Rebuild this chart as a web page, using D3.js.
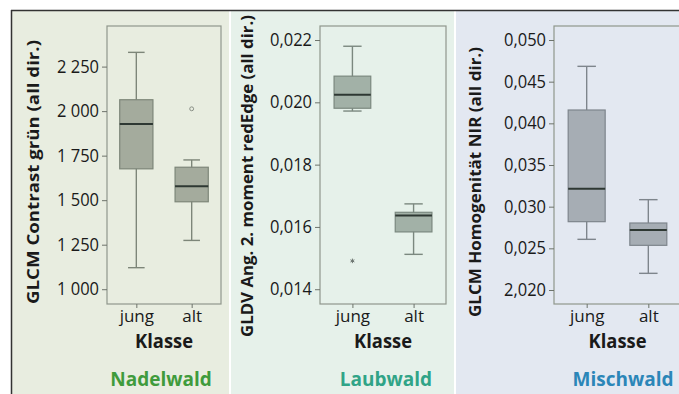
<!DOCTYPE html>
<html>
<head>
<meta charset="utf-8">
<script src="https://cdn.jsdelivr.net/npm/d3@7"></script>
<style>
  body { margin: 0; background: #fff; }
  svg text { font-family: "Open Sans", sans-serif; fill: #1a1a1a; }
</style>
</head>
<body>
<div id="chart"></div>
<script>
// Boxplot values: [whiskerLow, q1, median, q3, whiskerHigh]
const groups = ["jung", "alt"];

const nadelStats = [[1121, 1676, 1928, 2064, 2330], [1274, 1491, 1578, 1685, 1726]];
const nadelOutliers = [[], [2013]];
const nadelTicks = [1000, 1250, 1500, 1750, 2000, 2250];
const nadelTickLabels = ["1 000", "1 250", "1 500", "1 750", "2 000", "2 250"];

const laubStats = [[0.01972, 0.01981, 0.02024, 0.02084, 0.0218], [0.01512, 0.01584, 0.01637, 0.01647, 0.01674]];
const laubOutliers = [[0.01491], []];
const laubTicks = [0.014, 0.016, 0.018, 0.020, 0.022];
const laubTickLabels = ["0,014", "0,016", "0,018", "0,020", "0,022"];

const mischStats = [[0.02608, 0.0282, 0.03216, 0.0416, 0.04684], [0.0220, 0.02536, 0.0272, 0.02804, 0.03084]];
const mischOutliers = [[], []];
const mischTicks = [0.020, 0.025, 0.030, 0.035, 0.040, 0.045, 0.050];
const mischTickLabels = ["2,020", "0,025", "0,030", "0,035", "0,040", "0,045", "0,050"];

const W = 679, H = 394;

const svg = d3.select("#chart").append("svg")
    .attr("width", W)
    .attr("height", H);

const panels = [
  { x0: 12, x1: 229, bg: "#e8ede0", frame: [107, 221], domain: [917, 2478],
    stats: nadelStats, outliers: nadelOutliers, outlierMark: "circle",
    ticks: nadelTicks, labels: nadelTickLabels,
    fill: "#a4ab9d", stroke: "#7d8679",
    ytitle: "GLCM Contrast grün (all dir.)", yt: [33, 172, 264],
    name: "Nadelwald", nameColor: "#3f9b3c", nameX: 161 },
  { x0: 231, x1: 454, bg: "#e6f1ea", frame: [320, 446], domain: [0.013526, 0.02245],
    stats: laubStats, outliers: laubOutliers, outlierMark: "star",
    ticks: laubTicks, labels: laubTickLabels,
    fill: "#a2b1a7", stroke: "#7b887f",
    ytitle: "GLDV Ang. 2. moment redEdge (all dir.)", yt: [247, 176, 322],
    name: "Laubwald", nameColor: "#30a487", nameX: 386 },
  { x0: 456, x1: 679, bg: "#e3e8f1", frame: [554, 681], domain: [0.01832, 0.05168],
    stats: mischStats, outliers: mischOutliers, outlierMark: "circle",
    ticks: mischTicks, labels: mischTickLabels,
    fill: "#a6adb4", stroke: "#7e858c",
    ytitle: "GLCM Homogenität NIR (all dir.)", yt: [475, 182, 270],
    name: "Mischwald", nameColor: "#2b86b8", nameX: 623 }
];

const plotTop = 26, plotBottom = 304;

panels.forEach(function(p) {
  let g = svg.append("g");

  // panel background
  g.append("rect")
    .attr("x", p.x0).attr("y", 11)
    .attr("width", p.x1 - p.x0).attr("height", H - 11)
    .attr("fill", p.bg);

  let x = d3.scalePoint().domain(groups).range(p.frame).padding(0.53);
  let y = d3.scaleLinear().domain(p.domain).range([plotBottom, plotTop]);
  let step = x.step();
  let boxW = step * 0.6;
  let capW = boxW * 0.5;

  // plot frame
  g.append("rect")
    .attr("x", p.frame[0]).attr("y", plotTop)
    .attr("width", p.frame[1] - p.frame[0]).attr("height", plotBottom - plotTop)
    .attr("fill", "none")
    .attr("stroke", "#8f978c")
    .attr("stroke-width", 1.2);

  // y axis
  let yAxis = d3.axisLeft(y)
    .tickValues(p.ticks)
    .tickSize(5)
    .tickPadding(3)
    .tickFormat(function(d, i) { return p.labels[i]; });

  let ya = g.append("g")
    .attr("transform", `translate(${p.frame[0]},0)`)
    .call(yAxis);
  ya.select(".domain").remove();
  ya.selectAll("line").attr("stroke", "#6d736b");
  ya.selectAll("text")
    .attr("font-size", 17.5)
    .attr("textLength", 42)
    .attr("lengthAdjust", "spacingAndGlyphs")
    .style("fill", "#1a1a1a");

  // x axis
  let xAxis = d3.axisBottom(x).tickSize(4).tickPadding(4);
  let xa = g.append("g")
    .attr("transform", `translate(0,${plotBottom})`)
    .call(xAxis);
  xa.select(".domain").remove();
  xa.selectAll("line").attr("stroke", "#6d736b");
  xa.selectAll("text")
    .attr("font-size", 17)
    .attr("y", 6)
    .style("fill", "#1a1a1a");

  // boxes
  let box = g.selectAll(".box")
    .data(groups.map(function(k, i) { return { key: k, s: p.stats[i], out: p.outliers[i] }; }))
    .enter().append("g")
    .attr("class", "box");

  box.append("line")
    .attr("x1", d => x(d.key)).attr("x2", d => x(d.key))
    .attr("y1", d => y(d.s[0])).attr("y2", d => y(d.s[4]))
    .attr("stroke", p.stroke).attr("stroke-width", 1.4);

  box.selectAll(".cap")
    .data(d => [{ k: d.key, v: d.s[0] }, { k: d.key, v: d.s[4] }])
    .enter().append("line")
    .attr("x1", d => x(d.k) - capW / 2).attr("x2", d => x(d.k) + capW / 2)
    .attr("y1", d => y(d.v)).attr("y2", d => y(d.v))
    .attr("stroke", p.stroke).attr("stroke-width", 1.4);

  box.append("rect")
    .attr("x", d => x(d.key) - boxW / 2)
    .attr("width", boxW)
    .attr("y", d => y(d.s[3]))
    .attr("height", d => y(d.s[1]) - y(d.s[3]))
    .attr("fill", p.fill)
    .attr("stroke", p.stroke)
    .attr("stroke-width", 1.2);

  box.append("line")
    .attr("x1", d => x(d.key) - boxW / 2).attr("x2", d => x(d.key) + boxW / 2)
    .attr("y1", d => y(d.s[2])).attr("y2", d => y(d.s[2]))
    .attr("stroke", "#2e3833").attr("stroke-width", 2);

  // outliers
  box.selectAll(".out")
    .data(d => d.out.map(v => ({ k: d.key, v: v })))
    .enter().append("path")
    .attr("transform", d => `translate(${x(d.k)},${y(d.v)})`)
    .attr("d", d3.symbol().type(p.outlierMark === "star" ? d3.symbolAsterisk : d3.symbolCircle).size(p.outlierMark === "star" ? 14 : 12))
    .attr("fill", "none")
    .attr("stroke", p.outlierMark === "star" ? "#6b7470" : "#8a9087")
    .attr("stroke-width", 1);

  // y title
  g.append("text")
    .attr("transform", `translate(${p.yt[0]},${p.yt[1]}) rotate(-90)`)
    .attr("text-anchor", "middle")
    .attr("dy", "0.35em")
    .attr("font-size", 16.5)
    .attr("font-weight", "bold")
    .attr("textLength", p.yt[2])
    .attr("lengthAdjust", "spacingAndGlyphs")
    .text(p.ytitle);

  // x title
  g.append("text")
    .attr("x", (p.frame[0] + Math.min(p.frame[1], 681)) / 2)
    .attr("y", 348)
    .attr("text-anchor", "middle")
    .attr("font-size", 19)
    .attr("font-weight", "bold")
    .attr("textLength", 58)
    .attr("lengthAdjust", "spacingAndGlyphs")
    .text("Klasse");

  // panel name
  g.append("text")
    .attr("x", p.nameX)
    .attr("y", 386)
    .attr("text-anchor", "middle")
    .attr("font-size", 19)
    .attr("font-weight", "bold")
    .style("fill", p.nameColor)
    .text(p.name);
});

// outer border
svg.append("line")
  .attr("x1", 11).attr("x2", W).attr("y1", 10.5).attr("y2", 10.5)
  .attr("stroke", "#333").attr("stroke-width", 1.5);
svg.append("line")
  .attr("x1", 11.5).attr("x2", 11.5).attr("y1", 10).attr("y2", H)
  .attr("stroke", "#333").attr("stroke-width", 1.5);
</script>
</body>
</html>
